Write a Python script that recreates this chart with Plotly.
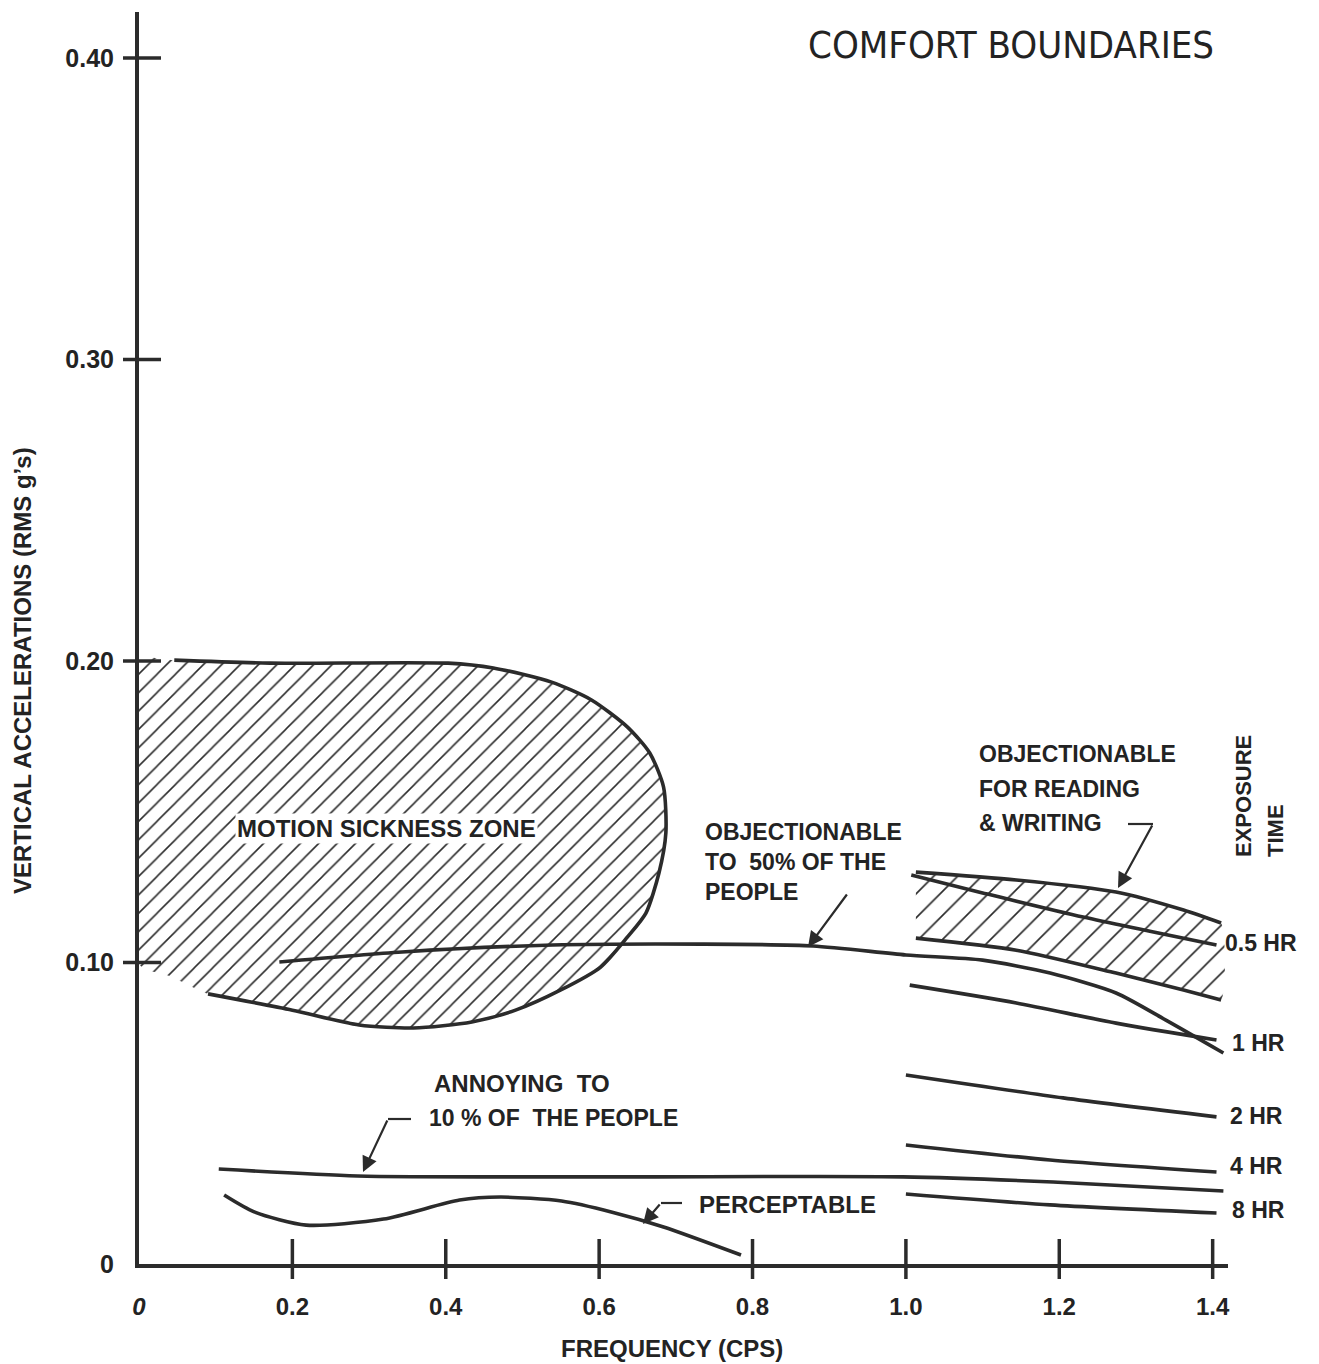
import plotly.graph_objects as go

# ---------------- data (frequency in cps, acceleration in RMS g) ----------------
ms_freq = [0.046, 0.171, 0.403, 0.462, 0.538, 0.590, 0.637, 0.666, 0.684, 0.687, 0.678,
           0.661, 0.637, 0.602, 0.550, 0.491, 0.434, 0.358, 0.287, 0.200, 0.090]
ms_acc = [0.2003, 0.1993, 0.1993, 0.1977, 0.1930, 0.1871, 0.1781, 0.1695, 0.1582, 0.1430, 0.1297,
          0.1164, 0.1085, 0.0985, 0.0909, 0.0842, 0.0803, 0.0783, 0.0793, 0.0842, 0.0896]
ms_axis_freq = [0.040, 0.0, 0.0]
ms_axis_acc = [0.0955, 0.0995, 0.2003]

obj50_freq = [0.183, 0.343, 0.539, 0.735, 0.879, 1.000, 1.100, 1.188, 1.274, 1.339, 1.414]
obj50_acc = [0.1002, 0.1035, 0.1058, 0.1061, 0.1055, 0.1025, 0.1008, 0.0965, 0.0899, 0.0809, 0.0700]

read_top_freq = [1.013, 1.144, 1.274, 1.362, 1.411]
read_top_acc = [0.1300, 0.1274, 0.1234, 0.1174, 0.1131]
read_bot_freq = [1.013, 1.144, 1.274, 1.362, 1.411]
read_bot_acc = [0.1081, 0.1041, 0.0965, 0.0909, 0.0876]

hr05_freq = [1.007, 1.100, 1.231, 1.405]
hr05_acc = [0.1290, 0.1231, 0.1151, 0.1058]
hr1_freq = [1.005, 1.144, 1.274, 1.405]
hr1_acc = [0.0925, 0.0866, 0.0799, 0.0743]
hr2_freq = [1.000, 1.205, 1.405]
hr2_acc = [0.0627, 0.0551, 0.0488]
hr4_freq = [1.000, 1.188, 1.405]
hr4_acc = [0.0395, 0.0345, 0.0305]
hr8_freq = [1.000, 1.188, 1.405]
hr8_acc = [0.0232, 0.0196, 0.0169]

annoy_freq = [0.104, 0.285, 0.617, 0.996, 1.192, 1.414]
annoy_acc = [0.0315, 0.0292, 0.0289, 0.0289, 0.0272, 0.0242]

perc_freq = [0.111, 0.151, 0.218, 0.319, 0.418, 0.471, 0.551, 0.617, 0.684, 0.785]
perc_acc = [0.0229, 0.0172, 0.0129, 0.0149, 0.0212, 0.0222, 0.0209, 0.0172, 0.0123, 0.0030]

x_tickvals = [0, 0.2, 0.4, 0.6, 0.8, 1.0, 1.2, 1.4]
x_ticktext = ["<i>0</i>", "0.2", "0.4", "0.6", "0.8", "1.0", "1.2", "1.4"]
y_tickvals = [0, 0.10, 0.20, 0.30, 0.40]
y_ticktext = ["0", "0.10", "0.20", "0.30", "0.40"]

# ---------------- layout helpers ----------------
# the page body has an 8px default margin, so the figure starts at (8, 8)
OFF = 8
W, H = 1319 - OFF, 1364 - OFF
ML, MR, MT, MB = 139 - OFF, 91, 12 - OFF, 100


def px(x):
    """screen pixel x -> paper fraction"""
    return (x - OFF - ML) / (W - ML - MR)


def py(y):
    """screen pixel y -> paper fraction"""
    return (OFF + H - MB - y) / (H - MT - MB)


INK = "#2b2b2b"
TXT = "#232323"
FONT = "Liberation Sans, Arial, Helvetica, sans-serif"
LW = 3.6

fig = go.Figure()


def curve(xs, ys):
    fig.add_trace(go.Scatter(x=xs, y=ys, mode="lines",
                             line=dict(color=INK, width=LW, shape="spline", smoothing=0.7),
                             hoverinfo="skip", showlegend=False))


# motion sickness hatch
fig.add_trace(go.Scatter(x=[0.0] + ms_freq + ms_axis_freq, y=[0.2003] + ms_acc + ms_axis_acc,
                         mode="lines", fill="toself", fillcolor="rgba(0,0,0,0)",
                         line=dict(width=0, shape="spline", smoothing=0.7),
                         fillpattern=dict(shape="/", fgcolor=INK, fgopacity=1,
                                          bgcolor="rgba(255,255,255,0)",
                                          size=13, solidity=0.12, fillmode="overlay"),
                         hoverinfo="skip", showlegend=False))
# reading band hatch
fig.add_trace(go.Scatter(x=read_top_freq + read_bot_freq[::-1], y=read_top_acc + read_bot_acc[::-1],
                         mode="lines", fill="toself", fillcolor="rgba(0,0,0,0)",
                         line=dict(width=0, shape="spline", smoothing=0.5),
                         fillpattern=dict(shape="/", fgcolor=INK, fgopacity=1,
                                          bgcolor="rgba(255,255,255,0)",
                                          size=17, solidity=0.1, fillmode="overlay"),
                         hoverinfo="skip", showlegend=False))

for xs, ys in [(ms_freq, ms_acc), (obj50_freq, obj50_acc), (read_top_freq, read_top_acc),
               (read_bot_freq, read_bot_acc), (hr05_freq, hr05_acc), (hr1_freq, hr1_acc),
               (hr2_freq, hr2_acc), (hr4_freq, hr4_acc), (hr8_freq, hr8_acc),
               (annoy_freq, annoy_acc), (perc_freq, perc_acc)]:
    curve(xs, ys)

# tick marks crossing the axes
shapes = []
for v in x_tickvals[1:]:
    shapes.append(dict(type="line", xref="x", yref="paper", x0=v, x1=v,
                       y0=py(1279), y1=py(1239), line=dict(color=INK, width=3.5)))
for v in y_tickvals[1:]:
    shapes.append(dict(type="line", xref="paper", yref="y", x0=px(123), x1=px(161),
                       y0=v, y1=v, line=dict(color=INK, width=3.5)))
# short horizontal leader segments for the arrows
for (xa, xb, yy) in [(1128, 1153, 824), (388, 411, 1119), (661, 682, 1203)]:
    shapes.append(dict(type="line", xref="paper", yref="paper", x0=px(xa), x1=px(xb),
                       y0=py(yy), y1=py(yy), line=dict(color=INK, width=2.2)))

annotations = []


def label(text, x, y, size=21, xanchor="left", angle=0, family=FONT, weight="bold", bg=None):
    d = dict(text=text, xref="paper", yref="paper", x=px(x), y=py(y), xanchor=xanchor,
             yanchor="middle", showarrow=False, textangle=angle,
             font=dict(family=family, size=size, color=TXT, weight=weight))
    if bg:
        d["bgcolor"] = bg
    annotations.append(d)


label("MOTION SICKNESS ZONE", 386, 828, size=24, xanchor="center", bg="white")
label("OBJECTIONABLE", 703, 832, size=23)
label("TO  50% OF THE", 703, 862, size=23)
label("PEOPLE", 703, 892, size=23)
label("OBJECTIONABLE", 977, 754, size=23)
label("FOR READING", 977, 789, size=23)
label("&amp; WRITING", 977, 823, size=23)
label("ANNOYING  TO", 432, 1083, size=24)
label("10 % OF  THE PEOPLE", 427, 1118, size=23)
label("PERCEPTABLE", 697, 1204, size=24)
label("0.5 HR", 1223, 943, size=23)
label("1 HR", 1230, 1043, size=23)
label("2 HR", 1228, 1116, size=23)
label("4 HR", 1228, 1166, size=23)
label("8 HR", 1230, 1210, size=23)
label("EXPOSURE", 1244, 796, size=22, xanchor="center", angle=-90)
label("TIME", 1275, 831, size=22, xanchor="center", angle=-90)
label("COMFORT BOUNDARIES", 806, 45, size=38,
      family="Liberation Sans Narrow, DejaVu Sans Condensed, Arial Narrow, sans-serif", weight="normal")
label("VERTICAL ACCELERATIONS (RMS g\u2019s)", 22, 671, size=24, xanchor="center", angle=-90)
label("FREQUENCY (CPS)", 672, 1348, size=24, xanchor="center")


def arrow(hx, hy, tx, ty):
    annotations.append(dict(text="", xref="paper", yref="paper", x=px(hx), y=py(hy),
                            ax=tx - hx, ay=ty - hy, showarrow=True, arrowhead=2,
                            arrowsize=1.4, arrowwidth=2.2, arrowcolor=INK))


arrow(808, 947, 848, 893)
arrow(1118, 888, 1153, 824)
arrow(363, 1172, 388, 1119)
arrow(643, 1224, 661, 1203)

axis_common = dict(showline=True, linecolor=INK, linewidth=4, showgrid=False, zeroline=False,
                   ticks="", mirror=False)

fig.update_layout(
    width=W, height=H,
    margin=dict(l=ML, r=MR, t=MT, b=MB, pad=0),
    paper_bgcolor="white", plot_bgcolor="white",
    showlegend=False,
    xaxis=dict(range=[0, 1.42], tickmode="array", tickvals=x_tickvals, ticktext=x_ticktext,
               ticklabelstandoff=18,
               tickfont=dict(family=FONT, size=24, color=TXT, weight="bold"), **axis_common),
    yaxis=dict(range=[0, 0.4153], tickmode="array", tickvals=y_tickvals, ticktext=y_ticktext,
               ticklabelstandoff=16,
               tickfont=dict(family=FONT, size=25, color=TXT, weight="bold"), **axis_common),
    shapes=shapes,
    annotations=annotations,
)

fig.write_html("out.html")
